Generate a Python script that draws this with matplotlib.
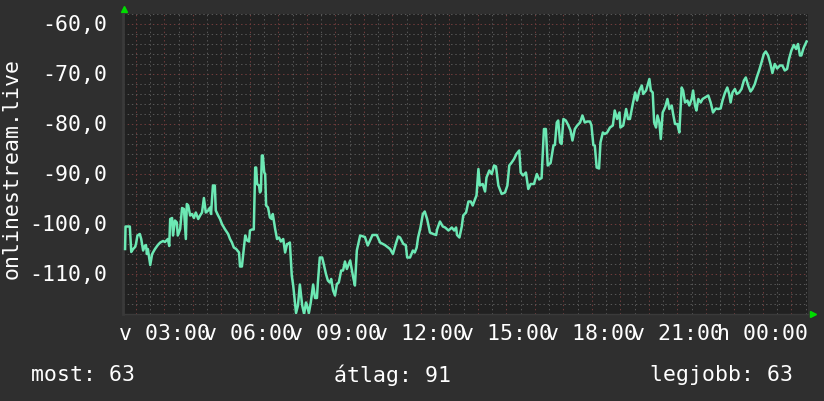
import matplotlib
matplotlib.use("Agg")
import matplotlib.pyplot as plt
from matplotlib.ticker import MultipleLocator

# idopont (perc ejfel ota) es ertek
perc = [97, 98, 107, 110, 114, 118, 120, 123, 128, 131, 135, 139, 141, 143, 145, 150,
        154, 160, 166, 171, 177, 181, 187, 190, 192, 196, 198, 202, 206, 208, 213, 217,
        221, 225, 227, 230, 234, 238, 242, 246, 251, 255, 259, 263, 267, 272, 276, 278,
        282, 286, 288, 293, 297, 301, 307, 314, 318, 322, 326, 331, 337, 339, 343, 347,
        350, 354, 358, 360, 364, 368, 371, 373, 375, 379, 381, 383, 385, 387, 390, 392,
        394, 398, 402, 406, 408, 413, 417, 421, 425, 430, 434, 438, 440, 444, 448, 451,
        455, 457, 461, 465, 470, 474, 478, 480, 484, 488, 493, 497, 501, 503, 507, 512,
        516, 520, 524, 528, 531, 535, 539, 543, 547, 552, 556, 560, 564, 571, 577, 581,
        585, 592, 602, 608, 618, 627, 634, 644, 655, 661, 667, 672, 676, 683, 688, 691,
        697, 703, 707, 711, 714, 719, 724, 728, 733, 739, 746, 752, 754, 760, 766, 771,
        778, 785, 790, 794, 796, 801, 806, 809, 815, 820, 825, 829, 834, 837, 841, 844,
        850, 855, 858, 864, 869, 874, 878, 883, 890, 897, 902, 906, 911, 916, 921, 927,
        930, 935, 941, 946, 951, 958, 964, 969, 974, 979, 983, 987, 993, 999, 1002, 1006,
        1009, 1013, 1016, 1020, 1025, 1030, 1035, 1039, 1044, 1049, 1055, 1060, 1065, 1070, 1076, 1079,
        1083, 1086, 1090, 1095, 1098, 1103, 1107, 1112, 1118, 1124, 1128, 1133, 1138, 1140, 1146, 1152,
        1156, 1160, 1166, 1171, 1175, 1180, 1185, 1188, 1194, 1198, 1201, 1204, 1208, 1211, 1215, 1218,
        1222, 1225, 1229, 1234, 1239, 1243, 1248, 1251, 1255, 1260, 1264, 1269, 1272, 1276, 1281, 1285,
        1290, 1293, 1297, 1300, 1304, 1309, 1313, 1318, 1325, 1330, 1335, 1341, 1346, 1351, 1355, 1360,
        1365, 1369, 1372, 1376, 1381, 1385, 1390, 1395, 1400, 1404, 1409, 1414, 1418, 1423, 1427, 1432,
        1437, 1442, 1446, 1451, 1456, 1460, 1465, 1470, 1476, 1481, 1486, 1491, 1495, 1500, 1505, 1510,
        1514, 1518, 1521, 1525, 1528, 1532]
ertek = [-105, -100.5, -100.5, -105.6, -105, -104.6, -104, -102.3, -102, -103, -105.3, -104.3, -104.2, -106, -105, -108.2,
         -106, -105, -104.2, -103.7, -103.4, -103.6, -103, -104.4, -99, -98.8, -102.3, -99.3, -99.7, -102.3, -101, -96.8,
         -97, -103, -96, -96.3, -98.3, -98, -98.8, -97.7, -99, -98.3, -97.7, -94.8, -97.7, -97.3, -96.7, -98,
         -92.3, -92.3, -97.3, -98.3, -99, -100, -101, -102, -103, -103.7, -104.7, -105, -105.7, -108.5, -108.5, -105,
         -102.3, -103.3, -103.5, -101.3, -101.1, -101.1, -88.7, -88.7, -92, -92.3, -93.7, -93.3, -86.3, -86.3, -89.7, -90,
         -96.3, -96.7, -98.7, -99, -98, -101, -103, -102.7, -103.5, -103, -105.7, -104, -104, -103.7, -110.3, -112.3,
         -116, -117.8, -116.3, -112.1, -116.3, -118, -115.7, -116.3, -117.8, -115.7, -112.1, -114.8, -114.8, -111.7, -106.7, -106.7,
         -108.3, -110, -111.3, -111.7, -111, -113.3, -114.3, -112, -111.7, -109.3, -109.3, -107.5, -109, -107.3, -110.5, -112.3,
         -105.3, -102.3, -102.6, -104.3, -102.2, -102.2, -103.7, -104.2, -105, -106, -104, -102.5, -102.7, -104, -104.2, -106.7,
         -106.7, -105.3, -105.7, -104.7, -102.7, -100.7, -98, -97.5, -99, -101.7, -102, -102.2, -101.1, -99.5, -100.5, -100.7,
         -101.3, -100.7, -101.3, -100.7, -102.2, -102.7, -100.5, -98.3, -97.7, -95.5, -95.5, -96.3, -95, -94.3, -89, -92.3,
         -92, -93.5, -90.7, -89.3, -90, -88.3, -88.5, -92.3, -94, -93.7, -92.3, -88.3, -87.7, -87, -86, -85.3,
         -89.7, -90.3, -89.7, -93, -92, -92, -90, -91.1, -90.8, -81, -81, -88.3, -87.8, -84.3, -84.2, -79.7,
         -79.3, -83.7, -84, -79, -79.3, -80.2, -81.3, -83.3, -81, -80.3, -79.7, -78.3, -79.7, -79.5, -79.5, -80.3,
         -84.2, -84.3, -88.7, -88.9, -83.7, -81.7, -82, -81.7, -80.7, -80.3, -77.3, -79, -77.7, -80.7, -80.3, -77,
         -79, -79, -76, -73.7, -75.3, -73.3, -72.3, -74, -73.3, -72, -71, -73.3, -73.7, -79.7, -80.7, -78.3,
         -79.7, -83, -77.7, -76.7, -75, -77, -76.3, -78, -80, -80, -81.7, -72.7, -73.3, -75.7, -75.3, -76.3,
         -75, -73.3, -76.3, -77.3, -75, -75.7, -75, -74.7, -74.3, -75.7, -77.7, -76.9, -77, -76.9, -75.3, -73.8,
         -72.7, -74, -75.7, -73.7, -73, -74, -73.7, -73, -71.3, -70.7, -72.3, -73.5, -73, -72, -70.7, -69.3,
         -67.7, -66, -65.5, -66.3, -68, -69.8, -68, -68.9, -68.3, -68.3, -69.3, -69, -67, -65.3, -64.2, -65,
         -64, -66.3, -66.3, -65, -64.3, -63.5]

tick_perc = [180, 360, 540, 720, 900, 1080, 1260, 1440]
tick_cimkek = ["v 03:00", "v 06:00", "v 09:00", "v 12:00", "v 15:00", "v 18:00", "v 21:00", "h 00:00"]
y_tickek = [-60, -70, -80, -90, -100, -110]
most, atlag, legjobb = 63, 91, 63

bg = "#2f2f2f"
plot_bg = "#212121"
szoveg = "#ffffff"
betu = 15.5
plt.rcParams["font.family"] = ["DejaVu Sans Mono"]

fig = plt.figure(figsize=(8.24, 4.02), dpi=100, facecolor=bg)
ax = fig.add_axes([0.1489, 0.2164, 0.8317, 0.7463])
ax.set_facecolor(plot_bg)

ax.set_xlim(92, 1535)
ax.set_ylim(-118, -58)

# racsok
ax.xaxis.set_major_locator(MultipleLocator(60))
ax.xaxis.set_minor_locator(MultipleLocator(30))
ax.yaxis.set_major_locator(MultipleLocator(10))
ax.yaxis.set_minor_locator(MultipleLocator(2))
ax.grid(which="minor", color="#575757", linestyle=(0, (1.4, 2.8)), linewidth=0.72)
ax.grid(which="major", color="#703c3c", linestyle=(0, (1.4, 2.8)), linewidth=0.72)
ax.set_axisbelow(True)

ax.plot(perc, ertek, color="#6ce8b4", linewidth=1.8, zorder=3)

# tick cimkek kezzel, hogy a racs maradjon orankent
ax.tick_params(axis="both", which="both", length=0, labelbottom=False, labelleft=False)
for p, c in zip(tick_perc, tick_cimkek):
    ax.text(p, -0.03, c, transform=ax.get_xaxis_transform(), ha="center", va="top",
            color=szoveg, fontsize=betu)
for v in y_tickek:
    ax.text(-0.022, v, f"{v:.1f}".replace(".", ","), transform=ax.get_yaxis_transform(),
            ha="right", va="center", color=szoveg, fontsize=betu)

for s in ["top", "right"]:
    ax.spines[s].set_visible(False)
ax.spines["left"].set_color("#3a3a3a")
ax.spines["bottom"].set_color("#3a3a3a")
ax.spines["left"].set_linewidth(2)
ax.spines["bottom"].set_linewidth(1)

# zold nyilak
ax.plot([0.002], [1.015], marker="^", color="#00dd00", markersize=5, transform=ax.transAxes, clip_on=False)
ax.plot([1.008], [0.0], marker=">", color="#00dd00", markersize=5, transform=ax.transAxes, clip_on=False)

fig.text(0.0146, 0.58, "onlinestream.live", rotation=90, ha="center", va="center",
         color=szoveg, fontsize=betu)
fig.text(0.038, 0.067, f"most: {most}", ha="left", va="center", color=szoveg, fontsize=betu)
fig.text(0.476, 0.067, f"átlag: {atlag}", ha="center", va="center", color=szoveg, fontsize=betu)
fig.text(0.962, 0.067, f"legjobb: {legjobb}", ha="right", va="center", color=szoveg, fontsize=betu)

fig.savefig("out.png", dpi=100, facecolor=bg)
